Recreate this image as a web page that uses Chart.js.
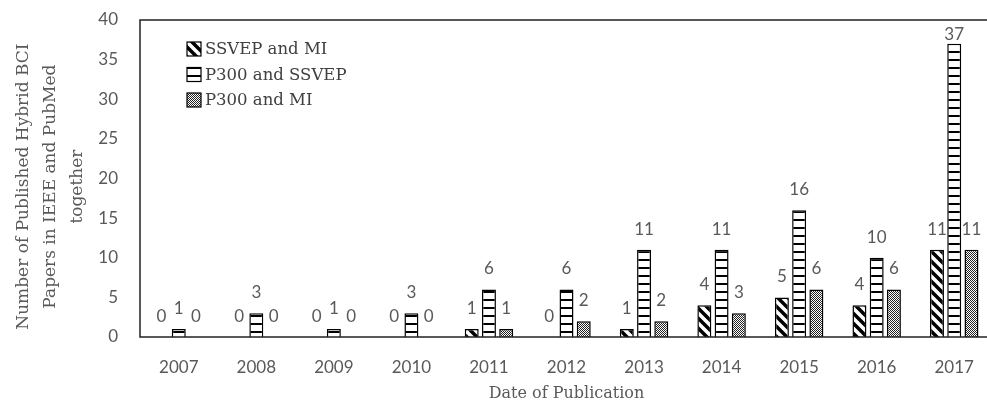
<!DOCTYPE html>
<html>
<head>
<meta charset="utf-8">
<script src="https://cdn.jsdelivr.net/npm/chart.js@4"></script>
<style>
  body { margin: 0; overflow: hidden; background: #fff; }
  #wrap { width: 993px; height: 405px; }
</style>
</head>
<body>
<div id="wrap"><canvas id="hybridChart"></canvas></div>
<script>
const years = ['2007', '2008', '2009', '2010', '2011', '2012', '2013', '2014', '2015', '2016', '2017'];
const ssvepMi = [0, 0, 0, 0, 1, 0, 1, 4, 5, 4, 11];
const p300Ssvep = [1, 3, 1, 3, 6, 6, 11, 11, 16, 10, 37];
const p300Mi = [0, 0, 0, 0, 1, 2, 2, 3, 6, 6, 11];
const yTicks = [0, 5, 10, 15, 20, 25, 30, 35, 40];

const grey = '#595959';
const serif = 'DejaVu Serif';
const sans = 'Lato';

// fill patterns like the excel chart
function makePattern(kind) {
    const c = document.createElement('canvas');
    const g = c.getContext('2d');
    if (kind === 'diag') {
        c.width = 10; c.height = 10;
        g.fillStyle = '#fff'; g.fillRect(0, 0, 10, 10);
        g.strokeStyle = '#000'; g.lineWidth = 3.5;
        g.beginPath();
        g.moveTo(-2, -2); g.lineTo(12, 12);
        g.moveTo(-7, 3); g.lineTo(3, 13);
        g.moveTo(7, -3); g.lineTo(13, 3);
        g.stroke();
    } else if (kind === 'horiz') {
        c.width = 4; c.height = 8;
        g.fillStyle = '#fff'; g.fillRect(0, 0, 4, 8);
        g.fillStyle = '#000'; g.fillRect(0, 3, 4, 2);
    } else {
        c.width = 2; c.height = 2;
        g.fillStyle = '#fff'; g.fillRect(0, 0, 2, 2);
        g.fillStyle = '#222'; g.fillRect(0, 0, 1, 1); g.fillRect(1, 1, 1, 1);
    }
    return g.createPattern(c, 'repeat');
}

const boxAndLabels = {
    id: 'boxAndLabels',
    afterDatasetsDraw(chart) {
        const ctx = chart.ctx;
        const area = chart.chartArea;
        ctx.save();
        ctx.font = '17px ' + sans;
        ctx.fillStyle = grey;
        ctx.textAlign = 'center';
        ctx.textBaseline = 'alphabetic';
        chart.data.datasets.forEach((ds, i) => {
            chart.getDatasetMeta(i).data.forEach((el, j) => {
                const y = Math.max(el.y - 15, area.top + 20);
                ctx.fillText(String(ds.data[j]), el.x, y);
            });
        });
        // plot frame
        ctx.strokeStyle = '#222';
        ctx.lineWidth = 1.5;
        ctx.strokeRect(area.left, area.top, area.right - area.left, area.bottom - area.top);
        // legend inside the plot
        ctx.font = '16.5px ' + serif;
        ctx.textAlign = 'left';
        ctx.textBaseline = 'middle';
        chart.data.datasets.forEach((ds, i) => {
            const y = 49 + i * 25.5;
            ctx.fillStyle = ds.backgroundColor;
            ctx.fillRect(187, y - 7, 14, 14);
            ctx.lineWidth = 1.2;
            ctx.strokeStyle = '#000';
            ctx.strokeRect(187, y - 7, 14, 14);
            ctx.fillStyle = '#404040';
            ctx.fillText(ds.label, 205, y + 1);
        });
        ctx.restore();
    }
};

const ctx = document.getElementById('hybridChart').getContext('2d');
const hybridChart = new Chart(ctx, {
    type: 'bar',
    data: {
        labels: years,
        datasets: [
            { label: 'SSVEP and MI', data: ssvepMi, backgroundColor: makePattern('diag') },
            { label: 'P300 and SSVEP', data: p300Ssvep, backgroundColor: makePattern('horiz') },
            { label: 'P300 and MI', data: p300Mi, backgroundColor: makePattern('dots') }
        ].map(d => Object.assign(d, { borderColor: '#000', borderWidth: 1.5, categoryPercentage: 0.667, barPercentage: 0.81 }))
    },
    options: {
        responsive: true,
        maintainAspectRatio: false,
        animation: false,
        layout: { padding: { top: 20, right: 0, left: 0, bottom: 0 } },
        scales: {
            x: {
                grid: { display: false, drawTicks: false },
                border: { display: false },
                ticks: { color: grey, font: { family: sans, size: 17 }, padding: 20, maxRotation: 0 },
                title: { display: true, text: 'Date of Publication', color: grey, font: { family: serif, size: 16 }, padding: { top: 0, bottom: 2 } },
                afterFit(scale) { scale.height = 68; scale.paddingLeft = 0; scale.paddingRight = 0; }
            },
            y: {
                min: 0,
                max: 40,
                grid: { display: false, drawTicks: false },
                border: { display: false },
                afterBuildTicks(scale) { scale.ticks = yTicks.map(v => ({ value: v })); },
                ticks: { color: grey, font: { family: sans, size: 17 }, padding: 22 },
                title: {
                    display: true,
                    text: ['Number of Published Hybrid BCI   ', 'Papers in IEEE and PubMed   ', 'together   '],
                    color: grey,
                    font: { family: serif, size: 17, lineHeight: 1.6 },
                    padding: { top: 10, bottom: 0 }
                },
                afterFit(scale) { scale.width = 140; scale.paddingTop = 0; scale.paddingBottom = 0; }
            }
        },
        plugins: {
            legend: { display: false },
            tooltip: { enabled: false }
        }
    },
    plugins: [boxAndLabels]
});
</script>
</body>
</html>
